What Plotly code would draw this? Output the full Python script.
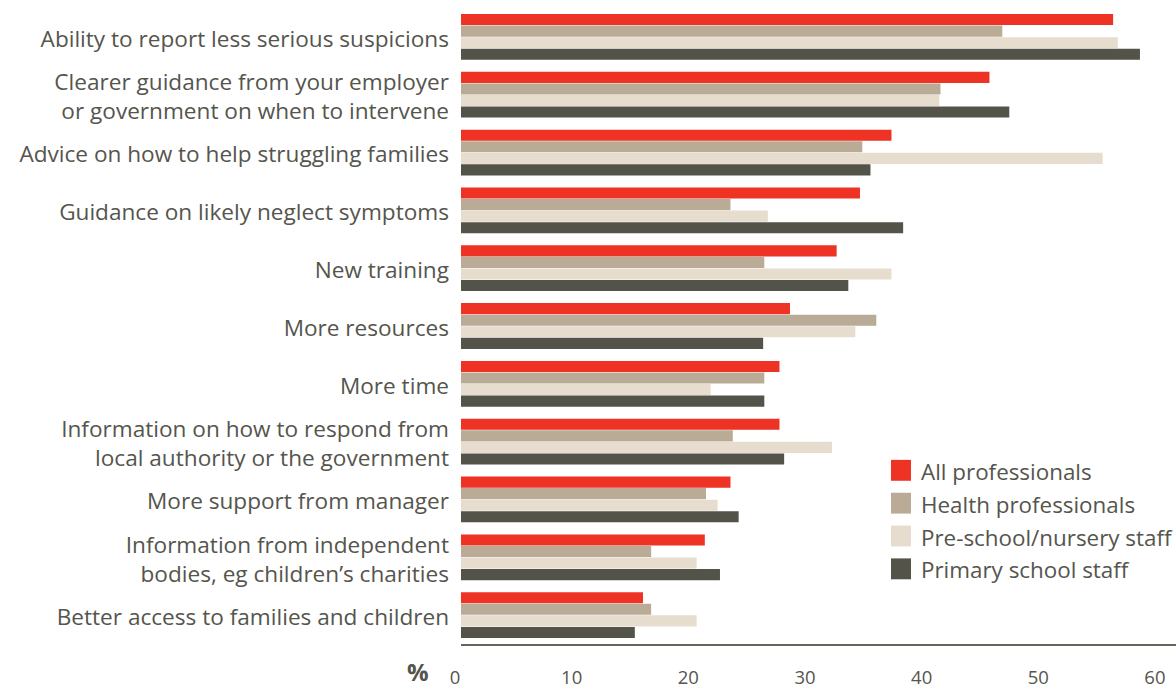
import plotly.graph_objects as go

# survey answers, top to bottom
categories = [
    "Ability to report less serious suspicions",
    "Clearer guidance from your employer<br>or government on when to intervene",
    "Advice on how to help struggling families",
    "Guidance on likely neglect symptoms",
    "New training",
    "More resources",
    "More time",
    "Information on how to respond from<br>local authority or the government",
    "More support from manager",
    "Information from independent<br>bodies, eg children\u2019s charities",
    "Better access to families and children",
]

series_names = ["All professionals", "Health professionals",
                "Pre-school/nursery staff", "Primary school staff"]

all_prof = [55.9, 45.3, 36.9, 34.2, 32.2, 28.2, 27.3, 27.3, 23.1, 20.9, 15.6]
health_prof = [46.4, 41.1, 34.4, 23.1, 26.0, 35.6, 26.0, 23.3, 21.0, 16.3, 16.3]
preschool = [56.3, 41.0, 55.0, 26.3, 36.9, 33.8, 21.4, 31.8, 22.0, 20.2, 20.2]
primary = [58.2, 47.0, 35.1, 37.9, 33.2, 25.9, 26.0, 27.7, 23.8, 22.2, 14.9]

x_ticks = [0, 10, 20, 30, 40, 50, 60]

colors = ["#EE3224", "#BAAB96", "#E6DDCF", "#53534A"]
text_col = "#55554D"
font_name = "Open Sans"

fig = go.Figure()
for name, vals, col in zip(series_names, [all_prof, health_prof, preschool, primary], colors):
    fig.add_trace(go.Bar(
        y=categories, x=vals, name=name, orientation="h",
        marker=dict(color=col, line=dict(width=0)),
        showlegend=False,
    ))

# legend drawn by hand so the squares can be big
W, H = 1176, 689
PL, PT, PB = 461, 8, 647   # plot area edges in px


def px_x(p):
    return (p - PL) / (W - PL)


def px_y(p):
    return (PB - p) / (PB - PT)


leg_x0 = 891
leg_y0 = 472.5
leg_step = 33
for i, (name, col) in enumerate(zip(series_names, colors)):
    yc = leg_y0 + i * leg_step
    fig.add_shape(type="rect", xref="paper", yref="paper",
                  x0=px_x(leg_x0), x1=px_x(leg_x0 + 20),
                  y0=px_y(yc + 10.5), y1=px_y(yc - 10.5),
                  fillcolor=col, line=dict(width=0))
    fig.add_annotation(xref="paper", yref="paper",
                       x=px_x(leg_x0 + 28), y=px_y(yc + 1),
                       xanchor="left", yanchor="middle", showarrow=False,
                       text=name, font=dict(family=font_name, size=22.4, color=text_col))

fig.add_annotation(xref="paper", yref="paper", x=px_x(431), y=px_y(675),
                   xanchor="right", yanchor="middle", showarrow=False,
                   text="<b>%</b>", font=dict(family=font_name, size=24, color=text_col))

fig.update_layout(
    width=W, height=H,
    margin=dict(l=PL, r=0, t=PT, b=H - PB),
    barmode="group",
    bargap=0.2,
    bargroupgap=0.04,
    plot_bgcolor="white",
    paper_bgcolor="white",
    font=dict(family=font_name, color=text_col),
    xaxis=dict(
        range=[0, 61.29],
        tickmode="array", tickvals=x_ticks, ticktext=[str(t) for t in x_ticks],
        showgrid=False, zeroline=False,
        showline=True, linecolor="#66665E", linewidth=2,
        ticks="", ticklabelstandoff=16, ticklabelshift=-6,
        tickfont=dict(family=font_name, size=18.5, color=text_col),
    ),
    yaxis=dict(
        autorange="reversed",
        showgrid=False, zeroline=False, showline=False,
        ticks="", ticklabelstandoff=11, ticklabelshift=-2,
        tickfont=dict(family=font_name, size=22.6, color=text_col),
    ),
)

fig.write_html("out.html", config={"displayModeBar": False},
               post_script="document.body.style.margin='0';")
